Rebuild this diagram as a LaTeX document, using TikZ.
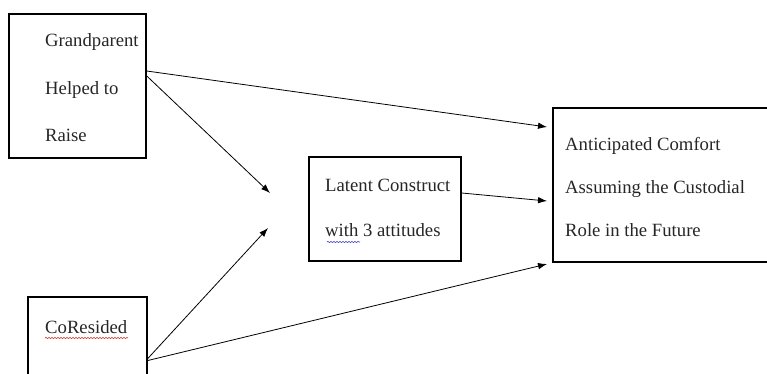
\documentclass[tikz,border=0pt]{standalone}
\usepackage{fontspec}
\setmainfont{Liberation Serif}
\usetikzlibrary{positioning,arrows.meta,decorations.pathmorphing}
\definecolor{spellred}{RGB}{215,45,45}
\definecolor{grammarblue}{RGB}{60,60,200}

\tikzset{
  box/.style={draw, line width=1.6pt, inner sep=0pt},
  txt/.style={align=left, inner sep=0pt, anchor=west, text=black!85},
  link/.style={-{Latex[length=9pt,width=6.5pt]}, line width=0.8pt},
  squiggle/.style={decorate, decoration={snake, amplitude=0.6pt, segment length=3pt}, line width=0.6pt},
}

\begin{document}
\begin{tikzpicture}[x=1pt, y=-1pt]
  \useasboundingbox (0,0) rectangle (767,373);
  \clip (0,0) rectangle (767,373);

  % boxes
  \node[box, minimum width=137pt, minimum height=144pt] (gp) at (77.5,86) {};
  \node[box, minimum width=119pt, minimum height=123pt] (cr) at (87.5,358.5) {};
  \node[box, minimum width=152pt, minimum height=104pt] (lat) at (385,209) {};
  \node[box, minimum width=237pt, minimum height=154pt] (out) at (671.5,185) {};

  % texts
  \node[txt, font=\fontsize{18.7}{47.5}\selectfont] (gptext) at (45,88) {Grandparent\\Helped to\\Raise};
  \node[txt, font=\fontsize{18.7}{22}\selectfont] (crtext) at (45,327) {CoResided};
  \node[txt, font=\fontsize{18.7}{45}\selectfont] (lattext) at (325,207.5) {Latent Construct\\with 3 attitudes};
  \node[txt, font=\fontsize{18.7}{43}\selectfont] (outtext) at (565,187) {Anticipated Comfort\\Assuming the Custodial\\Role in the Future};

  % spelling marks
  \draw[squiggle, spellred] (45,338) -- (128,338);
  \draw[squiggle, grammarblue] (327,242) -- (360,242);

  % free arrow ends
  \coordinate (join1) at (270,193);
  \coordinate (join2) at (268,228);
  \coordinate (in1) at (547,127);
  \coordinate (in2) at (547,201);
  \coordinate (in3) at (547,264);

  % paths
  \draw[link] ([yshift=15pt]gp.east) -- (in1);
  \draw[link] ([yshift=10pt]gp.east) -- (join1);
  \draw[link] (cr.east) -- (join2);
  \draw[link] ([yshift=-2pt]cr.east) -- (in3);
  \draw[link] ([yshift=16pt]lat.east) -- (in2);
\end{tikzpicture}
\end{document}
